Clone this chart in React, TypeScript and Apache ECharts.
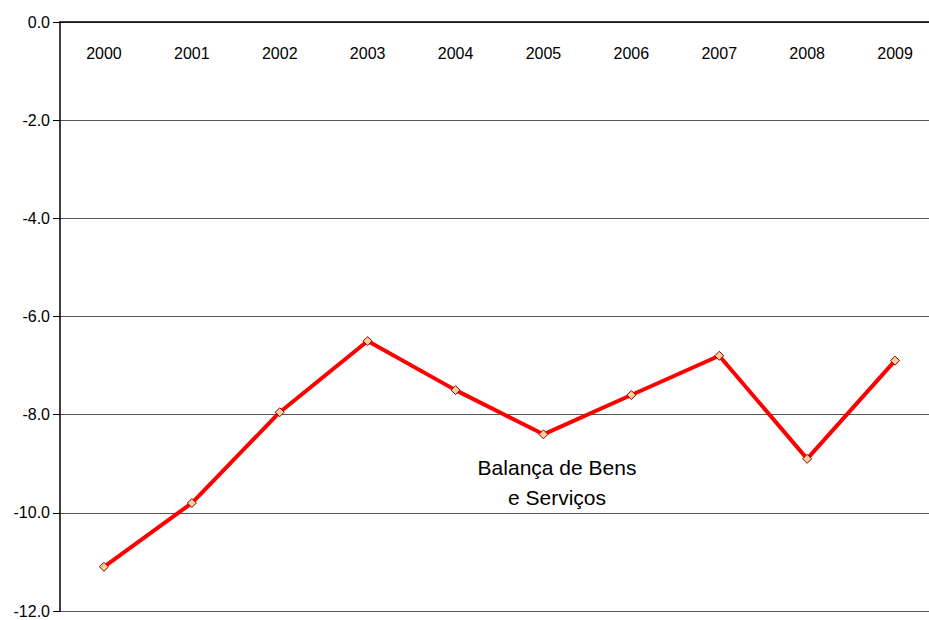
import React, { useEffect, useRef } from "react";
import * as echarts from "echarts";

const years = ["2000", "2001", "2002", "2003", "2004", "2005", "2006", "2007", "2008", "2009"];
const balance = [-11.1, -9.8, -7.95, -6.5, -7.5, -8.4, -7.6, -6.8, -8.9, -6.9];
const seriesName = "Balança de Bens\ne Serviços";

export default function App() {
  const ref = useRef<HTMLDivElement>(null);
  useEffect(() => {
    document.body.style.margin = "0";
    document.body.style.overflow = "hidden";
    const chart = echarts.init(ref.current!, null, { renderer: "svg" });
    const font = "'Liberation Sans', Arial, sans-serif";
    chart.setOption({
      animation: false,
      backgroundColor: "#ffffff",
      grid: { left: 60, right: 0, top: 22, bottom: 9 },
      xAxis: {
        type: "category",
        position: "top",
        data: years,
        boundaryGap: true,
        axisLine: { lineStyle: { color: "#000", width: 1.5 } },
        axisTick: { inside: true, length: 6, lineStyle: { color: "#000" } },
        axisLabel: { inside: true, margin: 23, color: "#000", fontSize: 16, fontFamily: font },
        splitLine: { show: false },
      },
      yAxis: {
        type: "value",
        min: -12,
        max: 0,
        interval: 2,
        axisLine: { show: true, lineStyle: { color: "#000", width: 1.5 } },
        axisTick: { show: true, length: 7, lineStyle: { color: "#000" } },
        axisLabel: {
          color: "#000",
          fontSize: 16,
          fontFamily: font,
          margin: 10,
          formatter: (v: number) => v.toFixed(1),
        },
        splitLine: { show: true, lineStyle: { color: "#555", width: 1 } },
      },
      graphic: [
        {
          type: "text",
          x: 557,
          y: 452,
          style: {
            text: seriesName,
            fontSize: 21,
            fontFamily: font,
            fill: "#000",
            align: "center",
            verticalAlign: "top",
            lineHeight: 30,
          },
        },
      ],
      series: [
        {
          name: seriesName,
          type: "line",
          data: balance,
          symbol: "diamond",
          symbolSize: 9,
          lineStyle: { color: "#ff0000", width: 4 },
          itemStyle: { color: "#ffcc99", borderColor: "#800000", borderWidth: 1 },
          z: 3,
        },
      ],
    });
    return () => chart.dispose();
  }, []);
  return (
    <div style={{ width: 929, height: 620, overflow: "hidden" }}>
      <div ref={ref} style={{ width: 939, height: 620 }} />
    </div>
  );
}
